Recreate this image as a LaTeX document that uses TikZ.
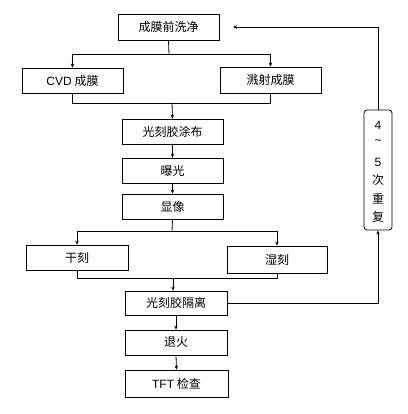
\documentclass[tikz,border=0pt]{standalone}
\usepackage{fontspec}
\setmainfont{Liberation Sans}
\newfontfamily\cjk{Noto Sans CJK SC}
\newfontfamily\lat{Liberation Sans}
\usetikzlibrary{arrows.meta}
\begin{document}
\begin{tikzpicture}[x=1pt,y=-1pt,
  stepbox/.style={draw,line width=0.8pt,inner sep=0pt,font=\cjk\fontsize{12}{14}\selectfont},
  conn/.style={line width=0.8pt},
  arr/.style={conn,-{Stealth[length=4pt,width=3.5pt]}}]
\useasboundingbox (0,0) rectangle (407,414);
\node[stepbox,minimum width=101pt,minimum height=26pt] (clean) at (168.5,27) {成膜前洗净};
\node[stepbox,minimum width=101pt,minimum height=25pt] (cvd) at (72.5,80.5) {{\lat CVD} 成膜};
\node[stepbox,minimum width=101pt,minimum height=26pt] (sput) at (270.5,80) {溅射成膜};
\node[stepbox,minimum width=101pt,minimum height=25pt] (coat) at (172.5,131.5) {光刻胶涂布};
\node[stepbox,minimum width=101pt,minimum height=25pt] (expo) at (172.5,170.5) {曝光};
\node[stepbox,minimum width=101pt,minimum height=25pt] (dev) at (172.5,206.5) {显像};
\node[stepbox,minimum width=102pt,minimum height=25pt] (dry) at (77,257.5) {干刻};
\node[stepbox,minimum width=100pt,minimum height=27pt] (wet) at (277,259.5) {湿刻};
\node[stepbox,minimum width=102pt,minimum height=24pt] (iso) at (176,303) {光刻胶隔离};
\node[stepbox,minimum width=102pt,minimum height=25pt] (anneal) at (176,342.5) {退火};
\node[stepbox,minimum width=103pt,minimum height=27pt] (tft) at (176.5,383.5) {{\lat TFT} 检查};
\node[draw,line width=0.8pt,rounded corners=3pt,minimum width=28pt,minimum height=120pt,inner sep=0pt] (loop) at (378,170) {};
\foreach \t/\yy in {{\lat 4}/125,{\lat \textasciitilde}/142,{\lat 5}/162,{\cjk 次}/180,{\cjk 重}/198.5,{\cjk 复}/217}
  \node[font=\fontsize{12}{14}\selectfont,inner sep=0pt] at (378,\yy) {\t};
% split 1
\coordinate (j1) at (169,54);
\draw[conn] (clean.south) -- (j1);
\draw[arr] (j1) -| (cvd.north);
\draw[arr] (j1) -| (sput.north);
% merge 1
\coordinate (j2) at (172,103);
\draw[conn] (cvd.south) |- (j2);
\draw[conn] (sput.south) |- (j2);
\draw[arr] (j2) -- (coat.north);
\draw[arr] (coat.south) -- (expo.north);
\draw[arr] (expo.south) -- (dev.north);
% split 2
\coordinate (j3) at (172,231);
\draw[conn] (dev.south) -- (j3);
\draw[arr] (j3) -| (dry.north);
\draw[arr] (j3) -| (wet.north);
% merge 2
\coordinate (j4) at (173,278);
\draw[conn] (dry.south) |- (j4);
\draw[conn] (wet.south) |- (j4);
\draw[arr] (j4) -- (j4 |- iso.north);
\draw[arr] (iso.south) -- (anneal.north);
\draw[arr] (anneal.south) -- (tft.north);
% loop
\draw[arr] (iso.east) -| (loop.south);
\coordinate (ret) at (233,27);
\draw[arr] (loop.north) |- (ret);
\end{tikzpicture}
\end{document}
